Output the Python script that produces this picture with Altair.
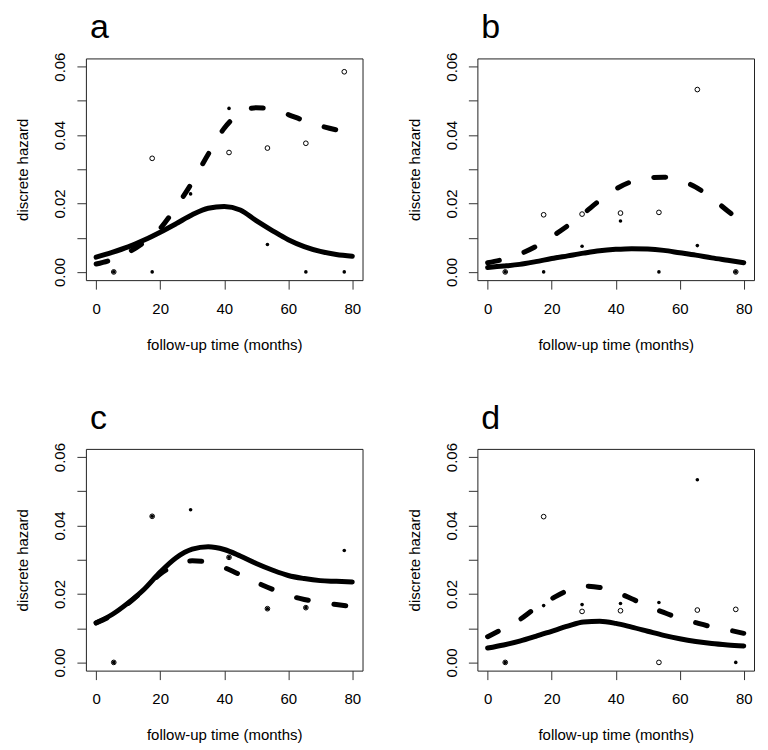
import altair as alt
import pandas as pd

FONT = "Liberation Sans"

months = [0, 5, 10, 15, 20, 25, 30, 35, 40, 45, 50, 55, 60, 65, 70, 75, 80]
# interval mid-points of the observed hazards
point_months = [5.5, 17.5, 29.5, 41.5, 53.5, 65.5, 77.5]

# panel a
a_solid = [0.0043, 0.0057, 0.0073, 0.0093, 0.0116, 0.0141, 0.0167, 0.0186, 0.0191,
           0.0181, 0.0150, 0.0121, 0.0094, 0.0074, 0.0060, 0.0051, 0.0046]
a_dashed = [0.0023, 0.0036, 0.0057, 0.0087, 0.0127, 0.0190, 0.0262, 0.0344, 0.0420,
            0.0465, 0.0480, 0.0476, 0.0460, 0.0442, 0.0427, 0.0415, 0.0405]
a_filled = [0.0, 0.0, 0.0228, 0.0478, 0.0080, 0.0, 0.0]
a_open = [0.0, 0.0332, None, 0.0349, 0.0362, 0.0376, 0.0585]

# panel b
b_solid = [0.0013, 0.0017, 0.0022, 0.0030, 0.0039, 0.0047, 0.0055, 0.0062, 0.0066,
           0.0068, 0.0067, 0.0063, 0.0056, 0.0049, 0.0041, 0.0034, 0.0027]
b_dashed = [0.0027, 0.0037, 0.0052, 0.0074, 0.0103, 0.0135, 0.0171, 0.0209, 0.0242,
            0.0264, 0.0275, 0.0277, 0.0268, 0.0248, 0.0216, 0.0178, 0.0142]
b_filled = [0.0, 0.0, 0.0075, 0.0149, 0.0, 0.0077, 0.0]
b_open = [0.0, 0.0167, 0.0169, 0.0172, 0.0174, 0.0533, 0.0]

# panel c
c_solid = [0.0116, 0.0140, 0.0174, 0.0214, 0.0264, 0.0306, 0.0331, 0.0338, 0.0330,
           0.0311, 0.0289, 0.0270, 0.0254, 0.0245, 0.0239, 0.0237, 0.0235]
c_dashed = [0.0115, 0.0138, 0.0172, 0.0213, 0.0258, 0.0285, 0.0297, 0.0293, 0.0277,
            0.0256, 0.0234, 0.0214, 0.0196, 0.0184, 0.0175, 0.0169, 0.0163]
c_filled = [0.0, 0.0427, 0.0446, 0.0307, 0.0157, 0.0160, 0.0327]
c_open = [0.0, 0.0427, None, 0.0307, 0.0157, 0.0160, None]

# panel d
d_solid = [0.0042, 0.0051, 0.0062, 0.0076, 0.0091, 0.0106, 0.0118, 0.0120, 0.0114,
           0.0103, 0.0091, 0.0079, 0.0069, 0.0061, 0.0055, 0.0051, 0.0048]
d_dashed = [0.0075, 0.0099, 0.0125, 0.0159, 0.0186, 0.0210, 0.0223, 0.0219, 0.0206,
            0.0186, 0.0164, 0.0146, 0.0129, 0.0116, 0.0104, 0.0095, 0.0085]
d_filled = [0.0, 0.0166, 0.0169, 0.0172, 0.0175, 0.0534, 0.0]
d_open = [0.0, 0.0426, 0.0149, 0.0151, 0.0, 0.0153, 0.0155]

x_ticks = [0, 20, 40, 60, 80]
y_ticks = [0.0, 0.01, 0.02, 0.03, 0.04, 0.05, 0.06]

W, H = 277, 222


def panel(letter, solid, dashed, filled, opened):
    curve_solid = pd.DataFrame({"month": months, "hazard": solid})
    curve_dashed = pd.DataFrame({"month": months, "hazard": dashed})
    pts_filled = pd.DataFrame({"month": point_months, "hazard": filled}).dropna()
    pts_open = pd.DataFrame({"month": point_months, "hazard": opened}).dropna()

    x = alt.X(
        "month:Q",
        scale=alt.Scale(domain=[-3.2, 83.2], nice=False, zero=False),
        axis=alt.Axis(
            title="follow-up time (months)", values=x_ticks, format="d",
            tickSize=9, labelPadding=12, labelBaseline="top",
            titleX=W / 2, titleY=69, titleAlign="center", titleBaseline="alphabetic",
        ),
    )
    y = alt.Y(
        "hazard:Q",
        scale=alt.Scale(domain=[-0.0024, 0.0624], nice=False, zero=False),
        axis=alt.Axis(
            title="discrete hazard", values=y_ticks,
            labelExpr="round(datum.value*100) % 2 == 0 ? format(datum.value, '.2f') : ''",
            labelAngle=270, labelAlign="center", labelBaseline="alphabetic",
            tickSize=9, labelPadding=12,
            titleAngle=270, titleX=-58, titleY=H / 2, titleAlign="center",
            titleBaseline="alphabetic",
        ),
    )

    p_open = alt.Chart(pts_open).mark_point(
        shape="circle", filled=False, size=22, strokeWidth=1, color="black", opacity=1
    ).encode(x=x, y=y)
    p_filled = alt.Chart(pts_filled).mark_circle(
        size=13, color="black", opacity=1
    ).encode(x=x, y=y)
    l_solid = alt.Chart(curve_solid).mark_line(
        color="black", strokeWidth=5, strokeCap="round", interpolate="monotone"
    ).encode(x=x, y=y)
    l_dashed = alt.Chart(curve_dashed).mark_line(
        color="black", strokeWidth=5, strokeCap="round", strokeDash=[12, 26],
        interpolate="monotone"
    ).encode(x=x, y=y)

    return alt.layer(p_open, p_filled, l_solid, l_dashed).properties(
        width=W, height=H,
        title=alt.TitleParams(
            text=letter, anchor="start", frame="group", fontSize=34, font=FONT,
            fontWeight="normal", color="black", baseline="alphabetic", offset=-20, dx=4,
        ),
    )


pa = panel("a", a_solid, a_dashed, a_filled, a_open)
pb = panel("b", b_solid, b_dashed, b_filled, b_open)
pc = panel("c", c_solid, c_dashed, c_filled, c_open)
pd_ = panel("d", d_solid, d_dashed, d_filled, d_open)

chart = (
    alt.concat(pa, pb, pc, pd_, columns=2, spacing={"row": 169, "column": 115}, bounds="flush")
    .properties(padding={"left": 7, "top": 2, "right": 5, "bottom": 5}, background="white")
    .configure_view(stroke="#222222", strokeWidth=1)
    .configure_axis(
        domain=False, grid=False, tickColor="#333333", tickWidth=1,
        labelFont=FONT, labelFontSize=15, labelColor="black",
        labelFlush=False, labelOverlap=False,
        titleFont=FONT, titleFontSize=15, titleFontWeight="normal", titleColor="black",
    )
)

chart.save("out.html", embed_options={"renderer": "svg", "actions": False})
